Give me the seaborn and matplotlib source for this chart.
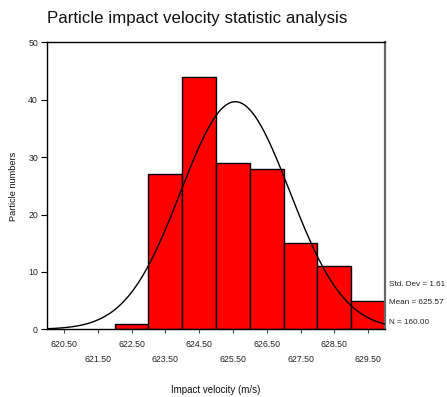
import numpy as np
import pandas as pd
import matplotlib
matplotlib.use("Agg")
import matplotlib.pyplot as plt
import seaborn as sns

# ---- data ----
bin_centers = [622.5, 623.5, 624.5, 625.5, 626.5, 627.5, 628.5, 629.5]
counts = [1, 27, 44, 29, 28, 15, 11, 5]
bin_edges = [622, 623, 624, 625, 626, 627, 628, 629, 630]
tick_values = [620.5, 621.5, 622.5, 623.5, 624.5, 625.5, 626.5, 627.5, 628.5, 629.5]
y_ticks = [0, 10, 20, 30, 40, 50]
std_dev = 1.61
mean = 625.57
n_total = 160.00

sns.set_theme(style="white")
plt.rcParams['font.family'] = ['Liberation Sans', 'DejaVu Sans']

fig = plt.figure(figsize=(4.47, 3.97), dpi=100)
ax = fig.add_axes([47 / 447, 1 - 329.3 / 397, (385 - 47) / 447, (329.3 - 42.3) / 397])

df = pd.DataFrame({"velocity": bin_centers, "count": counts})
sns.histplot(data=df, x="velocity", weights="count", bins=bin_edges,
             color="#ff0000", edgecolor="black", linewidth=1.0, alpha=1.0,
             ax=ax, zorder=2)

# normal curve from the stated statistics
xs = np.linspace(620, 630, 400)
binw = 1.0
pdf = n_total * binw / (std_dev * np.sqrt(2 * np.pi)) * np.exp(-0.5 * ((xs - mean) / std_dev) ** 2)
ax.plot(xs, pdf, color="black", linewidth=1.0, zorder=3)

ax.set_xlim(620, 630)
ax.set_ylim(0, 50)
ax.set_yticks(y_ticks)
ax.set_yticklabels([str(v) for v in y_ticks], fontsize=6.3, color="#222222")
ax.set_xticks(tick_values)
labels = []
for i, v in enumerate(tick_values):
    s = f"{v:.2f}"
    labels.append(s if i % 2 == 0 else "\n" + s)
ax.set_xticklabels(labels, fontsize=6.3, color="#222222", linespacing=1.85)

ax.tick_params(axis="y", direction="out", length=4.5, width=0.8, color="black", pad=2, left=True)
ax.tick_params(axis="x", direction="out", length=3, width=0.8, color="#444444", pad=5, bottom=True)

for side in ["left", "bottom", "top"]:
    ax.spines[side].set_color("black")
    ax.spines[side].set_linewidth(1.0)
    ax.spines[side].set_visible(True)
ax.spines["right"].set_visible(True)
ax.spines["right"].set_color("#666666")
ax.spines["right"].set_linewidth(1.6)

ax.set_xlabel("Impact velocity (m/s)", fontsize=7, color="#111111", va="center")
ax.xaxis.set_label_coords(0.5, -(390 - 329.3) / 287)
ax.set_ylabel("Particle numbers", fontsize=6.6, color="#111111", va="center")
ax.yaxis.set_label_coords(-(47 - 14) / 338, 1 - (186 - 42.3) / 287)

ax.set_title("Particle impact velocity statistic analysis", loc="left",
             fontsize=12.2, color="#111111", pad=14)

# stats box text at right
stats = [f"Std. Dev = {std_dev:.2f}", f"Mean = {mean:.2f}", f"N = {n_total:.2f}"]
ys = [284, 303, 322]
for s, yy in zip(stats, ys):
    fig.text(389 / 447, 1 - yy / 397, s, fontsize=5.9, color="#222222", va="center", ha="left")

ax.grid(False)
fig.savefig("out.png", dpi=100)
